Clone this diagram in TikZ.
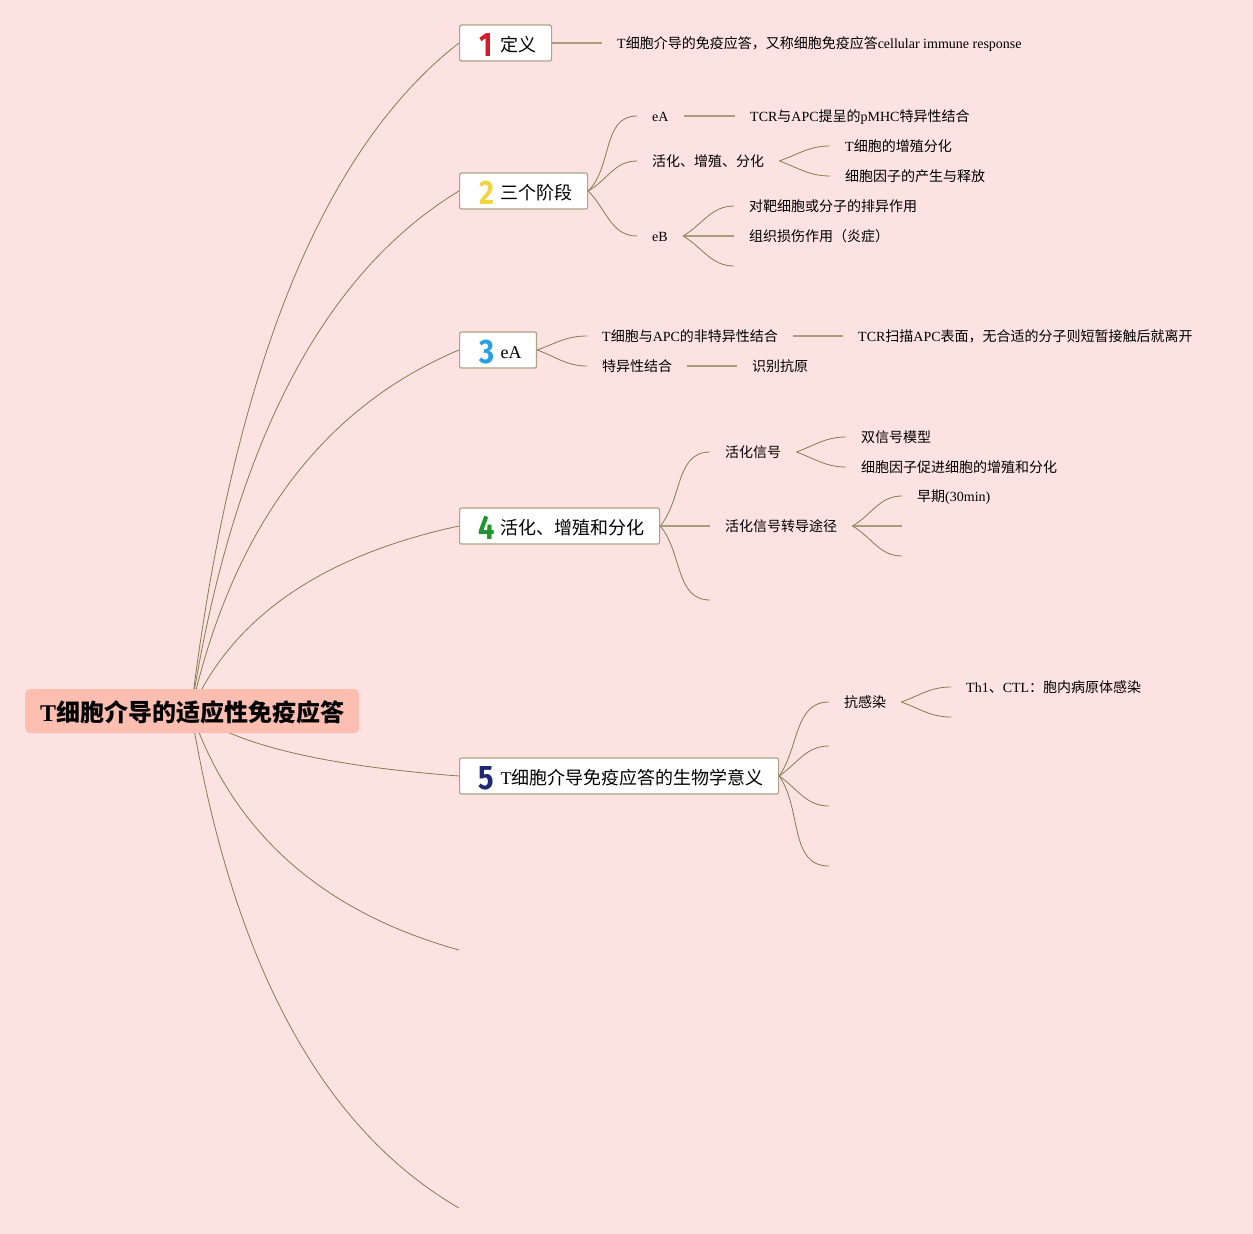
\documentclass[tikz,border=0pt]{standalone}
\usepackage{fontspec}
\setmainfont{Liberation Serif}
\newfontfamily\cjk{Noto Sans CJK SC}
\newfontfamily\numfont[FakeStretch=0.85]{Fira Sans}
\newcommand\zhs[1]{{\cjk #1}}
\usetikzlibrary{calc}
\definecolor{bgpink}{RGB}{253,226,226}
\definecolor{rootfill}{RGB}{251,190,176}
\definecolor{curvecol}{RGB}{132,124,78}
\definecolor{barcol}{RGB}{168,158,124}
\definecolor{boxline}{RGB}{168,165,135}
\definecolor{nred}{RGB}{210,28,48}
\definecolor{nyellow}{RGB}{240,212,64}
\definecolor{nblue}{RGB}{40,160,225}
\definecolor{ngreen}{RGB}{30,150,45}
\definecolor{nnavy}{RGB}{30,40,120}
\newcommand\topicnum[2]{\raisebox{-5pt}{\makebox[16pt]{\numfont\bfseries\fontsize{34}{34}\selectfont\color{#1}#2}}}
\begin{document}
\begin{tikzpicture}[x=1pt,y=-1pt,
  rootbox/.style={draw=none,fill=rootfill,rounded corners=5pt,anchor=west,
    inner xsep=15pt,inner ysep=0pt,minimum height=44pt,text height=23pt,text depth=2pt,
    font=\fontsize{24}{24}\selectfont\bfseries},
  topicbox/.style={draw=boxline,line width=1.2pt,fill=white,rounded corners=2pt,anchor=west,
    inner xsep=0pt,inner ysep=0pt,minimum height=36pt,text height=18pt,text depth=2pt,
    font=\fontsize{18}{18}\selectfont},
  leaf/.style={anchor=west,inner xsep=15pt,inner ysep=0pt,text height=13pt,text depth=1.4pt,
    font=\fontsize{14}{14}\selectfont},
  curve/.style={draw=curvecol,line width=0.8pt},
  bar/.style={draw=barcol,line width=1.3pt}
]
\useasboundingbox (0,0) rectangle (1253,1234);
\fill[bgpink] (0,0) rectangle (1253,1234);

% ---------- topic boxes ----------
\node[topicbox] (t1) at (459,43) {\hspace*{19pt}\topicnum{nred}{1}\hspace{6pt}\zhs{定义}\hspace*{15pt}};
\node[topicbox] (t2) at (459,191) {\hspace*{19pt}\topicnum{nyellow}{2}\hspace{6pt}\zhs{三个阶段}\hspace*{15pt}};
\node[topicbox] (t3) at (459,350) {\hspace*{19pt}\topicnum{nblue}{3}\hspace{6pt}eA\hspace*{15pt}};
\node[topicbox] (t4) at (459,526) {\hspace*{19pt}\topicnum{ngreen}{4}\hspace{6pt}\zhs{活化、增殖和分化}\hspace*{15pt}};
\node[topicbox] (t5) at (459,776) {\hspace*{19pt}\topicnum{nnavy}{5}\hspace{6pt}T\zhs{细胞介导免疫应答的生物学意义}\hspace*{15pt}};
\coordinate (t6) at (459,950);
\coordinate (t7) at (459,1208);

% ---------- root connectors (drawn before root so root covers them) ----------
\coordinate (rc) at (191,711);
\draw[curve] (rc) .. controls (232.3,372.3) and (321.7,149.7) .. (t1.west);
\draw[curve] (rc) .. controls (232.3,447.5) and (321.7,274.2) .. (t2.west);
\draw[curve] (rc) .. controls (232.3,528.1) and (321.7,407.7) .. (t3.west);
\draw[curve] (rc) .. controls (232.3,617.3) and (321.7,555.6) .. (t4.west);
\draw[curve] (rc) .. controls (232.3,743.9) and (321.7,765.6) .. (t5.west);
\draw[curve] (rc) .. controls (232.3,832.1) and (321.7,911.7) .. (t6);
\draw[curve] (rc) .. controls (232.3,962.8) and (321.7,1128.5) .. (t7);

\node[rootbox] (root) at (25,711) {T\zhs{细胞介导的适应性免疫应答}};

% ---------- topic 1 ----------
\node[leaf] (d1) at (602,43) {T\zhs{细胞介导的免疫应答，又称细胞免疫应答}cellular immune response};
\draw[bar] (t1.east) -- (d1.west);

% ---------- topic 2 ----------
\node[leaf] (eA) at (637,116) {eA};
\node[leaf] (act) at (637,161) {\zhs{活化、增殖、分化}};
\node[leaf] (eB) at (637,236) {eB};
\draw[curve] (t2.east) to[out=45,in=180] (eA.west);
\draw[curve] (t2.east) to[out=30,in=180] (act.west);
\draw[curve] (t2.east) to[out=-45,in=180] (eB.west);
\node[leaf] (eA1) at (735,116) {TCR\zhs{与}APC\zhs{提呈的}pMHC\zhs{特异性结合}};
\draw[bar] (eA.east) -- (eA1.west);
\node[leaf] (act1) at (830,146) {T\zhs{细胞的增殖分化}};
\node[leaf] (act2) at (830,176) {\zhs{细胞因子的产生与释放}};
\draw[curve] (act.east) to[out=20,in=180] (act1.west);
\draw[curve] (act.east) to[out=-20,in=180] (act2.west);
\node[leaf] (eB1) at (734,206) {\zhs{对靶细胞或分子的排异作用}};
\node[leaf] (eB2) at (734,236) {\zhs{组织损伤作用（炎症）}};
\coordinate (eB3) at (734,266);
\draw[curve] (eB.east) to[out=30,in=180] (eB1.west);
\draw[bar] (eB.east) -- (eB2.west);
\draw[curve] (eB.east) to[out=-30,in=180] (eB3);

% ---------- topic 3 ----------
\node[leaf] (ns) at (587,336) {T\zhs{细胞与}APC\zhs{的非特异性结合}};
\node[leaf] (sp) at (587,366) {\zhs{特异性结合}};
\draw[curve] (t3.east) to[out=20,in=180] (ns.west);
\draw[curve] (t3.east) to[out=-20,in=180] (sp.west);
\node[leaf] (ns1) at (843,336) {TCR\zhs{扫描}APC\zhs{表面，无合适的分子则短暂接触后就离开}};
\draw[bar] (ns.east) -- (ns1.west);
\node[leaf] (sp1) at (737,366) {\zhs{识别抗原}};
\draw[bar] (sp.east) -- (sp1.west);

% ---------- topic 4 ----------
\node[leaf] (sig) at (710,452) {\zhs{活化信号}};
\node[leaf] (path) at (710,526) {\zhs{活化信号转导途径}};
\coordinate (t4c) at (710,600);
\draw[curve] (t4.east) to[out=50,in=180] (sig.west);
\draw[bar] (t4.east) -- (path.west);
\draw[curve] (t4.east) to[out=-50,in=180] (t4c);
\node[leaf] (sig1) at (846,437) {\zhs{双信号模型}};
\node[leaf] (sig2) at (846,467) {\zhs{细胞因子促进细胞的增殖和分化}};
\draw[curve] (sig.east) to[out=20,in=180] (sig1.west);
\draw[curve] (sig.east) to[out=-20,in=180] (sig2.west);
\node[leaf] (path1) at (902,496) {\zhs{早期}(30min)};
\coordinate (path2) at (902,526);
\coordinate (path3) at (902,556);
\draw[curve] (path.east) to[out=30,in=180] (path1.west);
\draw[bar] (path.east) -- (path2);
\draw[curve] (path.east) to[out=-30,in=180] (path3);

% ---------- topic 5 ----------
\node[leaf] (inf) at (829,702) {\zhs{抗感染}};
\coordinate (t5b) at (829,746);
\coordinate (t5c) at (829,806);
\coordinate (t5d) at (829,866);
\draw[curve] (t5.east) to[out=55,in=180] (inf.west);
\draw[curve] (t5.east) to[out=35,in=180] (t5b);
\draw[curve] (t5.east) to[out=-35,in=180] (t5c);
\draw[curve] (t5.east) to[out=-55,in=180] (t5d);
\node[leaf] (inf1) at (951,687) {Th1\zhs{、}CTL\zhs{：胞内病原体感染}};
\coordinate (inf2) at (951,717);
\draw[curve] (inf.east) to[out=20,in=180] (inf1.west);
\draw[curve] (inf.east) to[out=-20,in=180] (inf2);
\end{tikzpicture}
\end{document}
